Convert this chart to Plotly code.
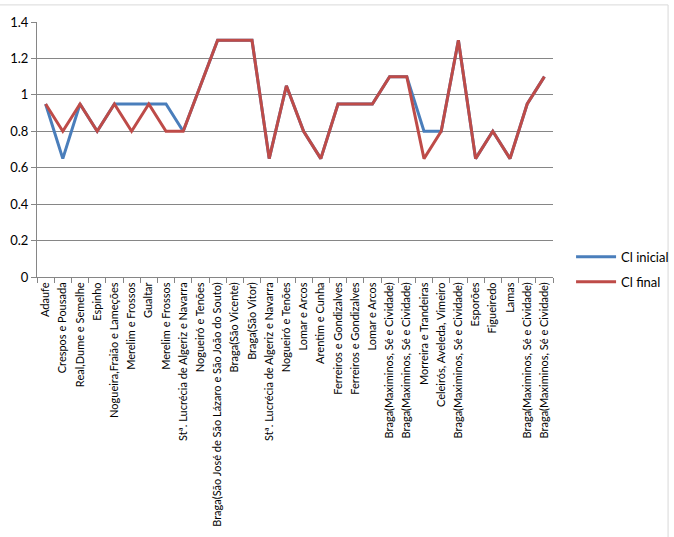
import plotly.graph_objects as go

categories = [
    "Adaufe", "Crespos e Pousada", "Real,Dume e Semelhe", "Espinho",
    "Nogueira,Fraião e Lameções", "Merelim e Frossos", "Gualtar", "Merelim e Frossos",
    "Stª. Lucrécia de Algeriz e Navarra", "Nogueiró e Tenões",
    "Braga(São José de São Lázaro e São João do Souto)", "Braga(São Vicente)",
    "Braga(São Vitor)", "Stª. Lucrécia de Algeriz e Navarra", "Nogueiró e Tenões",
    "Lomar e Arcos", "Arentim e Cunha", "Ferreiros e Gondizalves", "Ferreiros e Gondizalves",
    "Lomar e Arcos", "Braga(Maximinos, Sé e Cividade)", "Braga(Maximinos, Sé e Cividade)",
    "Morreira e Trandeiras", "Celeirós, Aveleda, Vimeiro", "Braga(Maximinos, Sé e Cividade)",
    "Esporões", "Figueiredo", "Lamas", "Braga(Maximinos, Sé e Cividade)",
    "Braga(Maximinos, Sé e Cividade)",
]
cl_inicial = [0.95, 0.65, 0.95, 0.8, 0.95, 0.95, 0.95, 0.95, 0.8, 1.05,
              1.3, 1.3, 1.3, 0.65, 1.05, 0.8, 0.65, 0.95, 0.95, 0.95,
              1.1, 1.1, 0.8, 0.8, 1.3, 0.65, 0.8, 0.65, 0.95, 1.1]
cl_final = [0.95, 0.8, 0.95, 0.8, 0.95, 0.8, 0.95, 0.8, 0.8, 1.05,
            1.3, 1.3, 1.3, 0.65, 1.05, 0.8, 0.65, 0.95, 0.95, 0.95,
            1.1, 1.1, 0.65, 0.8, 1.3, 0.65, 0.8, 0.65, 0.95, 1.1]
y_ticks = [0, 0.2, 0.4, 0.6, 0.8, 1.0, 1.2, 1.4]
y_labels = ["0", "0.2", "0.4", "0.6", "0.8", "1", "1.2", "1.4"]

xs = list(range(len(categories)))

fig = go.Figure()
fig.add_trace(go.Scatter(x=xs, y=cl_inicial, mode="lines", name="Cl inicial",
                         legendgroup="a",
                         line=dict(color="#4A7EBB", width=3)))
fig.add_trace(go.Scatter(x=xs, y=cl_final, mode="lines", name="Cl final",
                         legendgroup="b",
                         line=dict(color="#BE4B48", width=3)))

font_family = "Lato, Open Sans, sans-serif"
fig.update_layout(
    width=674, height=537,
    margin=dict(l=37, r=121, t=22, b=260, autoexpand=False),
    paper_bgcolor="white", plot_bgcolor="white",
    font=dict(family=font_family, color="#000000"),
    showlegend=True,
    legend=dict(x=1.035, y=0.03, xanchor="left", yanchor="middle",
                font=dict(size=13, family=font_family), tracegroupgap=5,
                itemwidth=40, bgcolor="rgba(0,0,0,0)"),
    xaxis=dict(
        range=[-0.5, len(categories) - 0.5], automargin=False,
        tickmode="array", tickvals=xs, ticktext=categories,
        tickangle=-90, tickfont=dict(size=11, family=font_family),
        ticks="", showgrid=False, zeroline=False,
        showline=True, linecolor="#868686", linewidth=1,
        minor=dict(tickmode="array", tickvals=[i + 0.5 for i in range(-1, len(categories))],
                   ticks="outside", ticklen=5, tickcolor="#868686", showgrid=False),
    ),
    yaxis=dict(
        range=[0, 1.4], tickmode="array", tickvals=y_ticks, ticktext=y_labels,
        automargin=False,
        tickfont=dict(size=13, family=font_family),
        showgrid=True, gridcolor="#868686", gridwidth=1,
        zeroline=False, showline=True, linecolor="#868686", linewidth=1,
        ticks="outside", ticklen=5, tickcolor="#868686",
    ),
    shapes=[dict(type="rect", xref="paper", yref="paper",
                 x0=-0.1, x1=1.223, y0=-1.2, y1=1.067,
                 line=dict(color="#D9D9D9", width=1), fillcolor="rgba(0,0,0,0)", layer="below")],
)

fig.write_html("out.html")
